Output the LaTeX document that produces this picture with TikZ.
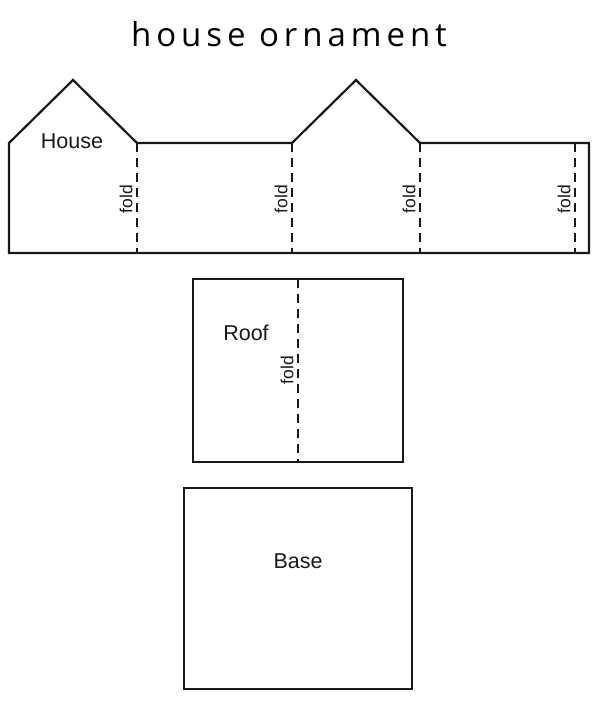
\documentclass[tikz,border=0pt]{standalone}
\usepackage{fontspec}
\setmainfont{Liberation Sans}
\newfontfamily\titlefont[LetterSpace=15]{Open Sans}
\begin{document}
\begin{tikzpicture}[x=1pt,y=-1pt,
  outline/.style={line width=2.2pt, line join=miter, black!90},
  foldline/.style={line width=2.2pt, dash pattern=on 9pt off 6pt, black!90},
  foldlbl/.style={rotate=90, font=\fontsize{17.5}{17}\selectfont, inner sep=0pt, text=black!90},
  partlbl/.style={font=\fontsize{21.5}{21}\selectfont, inner sep=0pt, text=black!90}]
\useasboundingbox (0,0) rectangle (600,717);
% title
\node[font=\titlefont\fontsize{33}{33}\selectfont, inner sep=0pt] (title) at (289,34) {house ornament};
% house strip
\draw[outline] (9,253) -- (9,143) -- (73,80) -- (137,143) -- (292,143) -- (356,80) -- (420,143) -- (589,143) -- (589,253) -- cycle;
\foreach \x/\n in {137/a,292/b,420/c,575/d}{
  \coordinate (f\n t) at (\x,143);
  \coordinate (f\n b) at (\x,253);
  \draw[foldline] (f\n t) -- (f\n b);
  \node[foldlbl] (l\n) at (\x-11,199) {fold};
}
\node[partlbl] (house) at (72,141) {House};
% roof
\draw[outline] (193,279) rectangle (403,462);
\coordinate (rt) at (298,279);
\coordinate (rb) at (298,462);
\draw[foldline] (rt) -- (rb);
\node[foldlbl] (lroof) at (287,370) {fold};
\node[partlbl] (roof) at (246,333) {Roof};
% base
\draw[outline] (184,488) rectangle (412,689);
\node[partlbl] (base) at (298,561) {Base};
\end{tikzpicture}
\end{document}
